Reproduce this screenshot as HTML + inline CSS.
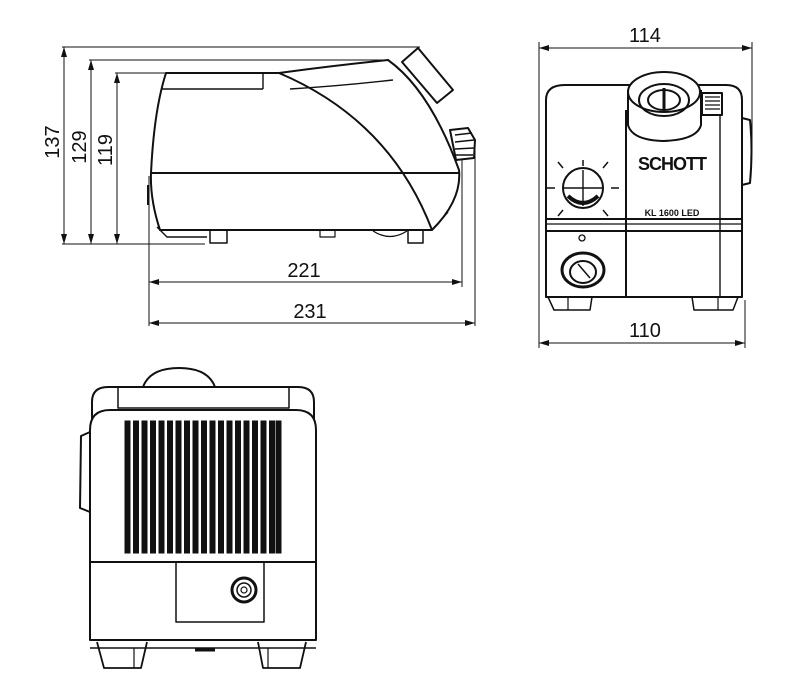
<!DOCTYPE html>
<html><head><meta charset="utf-8"><style>
html,body{margin:0;padding:0;background:#fff;width:800px;height:700px;overflow:hidden}
svg{display:block}
text{font-family:"Liberation Sans",sans-serif;fill:#111}
</style></head><body>
<svg width="800" height="700" viewBox="0 0 800 700" xmlns="http://www.w3.org/2000/svg">
<defs>
<marker id="a" viewBox="0 0 10 6" refX="10" refY="3" markerWidth="10" markerHeight="6" orient="auto-start-reverse" markerUnits="userSpaceOnUse"><path d="M0,0 L10,3 L0,6 z" fill="#111"/></marker>
</defs>
<g stroke="#111" fill="none" stroke-width="1">
<line x1="62" y1="47" x2="420" y2="47"/>
<line x1="89" y1="60" x2="388" y2="60"/>
<line x1="115" y1="73" x2="166" y2="73"/>
<line x1="62" y1="244" x2="205" y2="244"/>
<line x1="64" y1="47" x2="64" y2="244" marker-start="url(#a)" marker-end="url(#a)"/>
<line x1="91" y1="60" x2="91" y2="244" marker-start="url(#a)" marker-end="url(#a)"/>
<line x1="117" y1="73" x2="117" y2="244" marker-start="url(#a)" marker-end="url(#a)"/>
<line x1="149" y1="176" x2="149" y2="326"/>
<line x1="462" y1="160" x2="462" y2="287"/>
<line x1="475" y1="150" x2="475" y2="326"/>
<line x1="149" y1="282" x2="462" y2="282" marker-start="url(#a)" marker-end="url(#a)"/>
<line x1="149" y1="323" x2="475" y2="323" marker-start="url(#a)" marker-end="url(#a)"/>
<line x1="539" y1="42" x2="539" y2="348"/>
<line x1="752" y1="42" x2="752" y2="150"/>
<line x1="745" y1="300" x2="745" y2="348"/>
<line x1="539" y1="48" x2="752" y2="48" marker-start="url(#a)" marker-end="url(#a)"/>
<line x1="539" y1="343" x2="745" y2="343" marker-start="url(#a)" marker-end="url(#a)"/>
</g>
<g font-size="20" text-anchor="middle">
<text x="0" y="0" transform="translate(59,142) rotate(-90)">137</text>
<text x="0" y="0" transform="translate(86,147) rotate(-90)">129</text>
<text x="0" y="0" transform="translate(112,150) rotate(-90)">119</text>
<text x="304" y="277">221</text>
<text x="310" y="318">231</text>
<text x="645" y="42">114</text>
<text x="645" y="337">110</text>
</g>
<g stroke="#111" fill="none" stroke-width="2" stroke-linejoin="round">
<path d="M166,73 L279,73 Q330,66 388,60 Q430,90 459,170 Q462,200 432,230 L160,230 Q150,200 151,173 Q154,110 166,73 Z"/>
<line x1="161" y1="89" x2="263" y2="89" stroke-width="1.4"/>
<line x1="263" y1="73" x2="263" y2="89" stroke-width="1.4"/>
<path d="M290,89 Q340,86 393,80" stroke-width="1.4"/>
<path d="M279,73 Q390,120 432,230"/>
<line x1="151" y1="173" x2="459" y2="173"/>
<path d="M402,62 L418,48 L453,90 L437,103 Z" fill="#fff"/>
<path d="M450,130 L468,128 L475,140 L474,158 L456,160 Z" fill="#fff"/>
<path d="M455,135 L472,133 M455,142 L474,140 M455,149 L474,148 M455,155 L473,155" stroke-width="1.5"/>
<path d="M157,227 L167,237 L207,237" stroke-width="1.4"/>
<rect x="210" y="230" width="17" height="13" stroke-width="1.5"/>
<rect x="320" y="230" width="15" height="7" stroke-width="1.2"/>
<path d="M373,231 Q390,242 407,231" stroke-width="1.3"/>
<rect x="408" y="230" width="15" height="13" stroke-width="1.5"/>
<path d="M432,230 L448,212" stroke-width="1.4"/>
<line x1="148" y1="185" x2="148" y2="205" stroke-width="2"/>
</g>
<g stroke="#111" fill="none" stroke-width="2" stroke-linejoin="round">
<path d="M546,297 L546,100 Q546,85 565,85 L726,85 Q742,85 742,100 L742,297 Z"/>
<path d="M742,118 L750,120 Q753,150 750,183 L742,185"/>
<line x1="546" y1="219" x2="742" y2="219"/>
<line x1="546" y1="224" x2="742" y2="224" stroke-width="1.2"/>
<line x1="546" y1="231" x2="742" y2="231"/>
<line x1="626" y1="110" x2="626" y2="297"/>
<line x1="720" y1="115" x2="720" y2="297" stroke-width="1.4"/>
<path d="M628,90 L628,125 Q632,140 663,141 Q697,140 701,125 L701,90" fill="#fff"/>
<ellipse cx="664" cy="92" rx="36" ry="20" fill="#fff"/>
<ellipse cx="664" cy="100" rx="25" ry="16"/>
<ellipse cx="664" cy="100" rx="16" ry="10"/>
<line x1="664" y1="88" x2="664" y2="110" stroke-width="3"/>
<rect x="702" y="93" width="20" height="22" fill="#fff"/>
<path d="M705,97 H720 M705,101 H720 M705,105 H720 M705,109 H720" stroke-width="1.2"/>
<circle cx="583" cy="188" r="20"/>
<line x1="563" y1="188" x2="603" y2="188" stroke-width="1.4"/>
<line x1="583" y1="170" x2="583" y2="206" stroke-width="1.4"/>
<path d="M568,196 Q583,210 598,196" stroke-width="4"/>
<path d="M555,188 h-8 M611,188 h8 M563,168 l-5,-6 M603,168 l5,-6 M583,166 v-6 M563,210 l-5,6 M603,210 l5,6" stroke-width="1.5"/>
<circle cx="582" cy="238" r="3" stroke-width="1.3"/>
<ellipse cx="583" cy="270" rx="21" ry="17" stroke-width="3"/>
<ellipse cx="583" cy="272" rx="13" ry="11" stroke-width="2"/>
<line x1="578" y1="264" x2="590" y2="278" stroke-width="1.5"/>
<path d="M548,297 L554,310 L590,310 L592,297" stroke-width="1.5"/>
<line x1="568" y1="297" x2="568" y2="310" stroke-width="1.2"/>
<path d="M692,297 L694,310 L733,310 L738,297" stroke-width="1.5"/>
<line x1="718" y1="297" x2="718" y2="310" stroke-width="1.2"/>
</g>
<text x="672" y="170" font-size="18" font-weight="bold" text-anchor="middle" letter-spacing="-1">SCHOTT</text>
<text x="672" y="216" font-size="9" font-weight="bold" text-anchor="middle">KL 1600 LED</text>
<g stroke="#111" fill="none" stroke-width="2" stroke-linejoin="round">
<path d="M143,387 Q150,368 179,368 Q208,368 215,387"/>
<path d="M92,420 L92,402 Q92,387 108,387 L298,387 Q314,387 314,402 L314,420"/>
<rect x="118" y="387" width="171" height="21" stroke-width="1.5"/>
<path d="M90,640 L90,430 Q90,410 110,410 L296,410 Q316,410 316,430 L316,640 Z"/>
<path d="M90,432 L81,436 L80,508 L90,512" />
<line x1="90" y1="562" x2="316" y2="562"/>
<rect x="176" y="562" width="88" height="60" stroke-width="1.5"/>
<circle cx="244" cy="590" r="12" stroke-width="3"/>
<circle cx="244" cy="590" r="7" stroke-width="1.5"/>
<circle cx="244" cy="590" r="3" stroke-width="1.2"/>
<line x1="90" y1="648" x2="316" y2="648" stroke-width="1.4"/>
<path d="M97,642 L104,668 L141,668 L147,642" stroke-width="1.8"/>
<line x1="134" y1="648" x2="134" y2="668" stroke-width="1.2"/>
<path d="M258,642 L263,668 L300,668 L306,642" stroke-width="1.8"/>
<line x1="268" y1="648" x2="268" y2="668" stroke-width="1.2"/>
<line x1="195" y1="650" x2="215" y2="650" stroke-width="3"/>
</g>
<g fill="#111" stroke="#111" stroke-width="1">
<rect x="125" y="421" width="5" height="132"/><rect x="133.5" y="421" width="5" height="132"/>
<rect x="142" y="421" width="5" height="132"/><rect x="150.5" y="421" width="5" height="132"/>
<rect x="159" y="421" width="5" height="132"/><rect x="167.5" y="421" width="5" height="132"/>
<rect x="176" y="421" width="5" height="132"/><rect x="184.5" y="421" width="5" height="132"/>
<rect x="193" y="421" width="5" height="132"/><rect x="201.5" y="421" width="5" height="132"/>
<rect x="210" y="421" width="5" height="132"/><rect x="218.5" y="421" width="5" height="132"/>
<rect x="227" y="421" width="5" height="132"/><rect x="235.5" y="421" width="5" height="132"/>
<rect x="244" y="421" width="5" height="132"/><rect x="252.5" y="421" width="5" height="132"/>
<rect x="261" y="421" width="5" height="132"/><rect x="269.5" y="421" width="5" height="132"/>
<rect x="276" y="421" width="5" height="132"/>
</g>
</svg>
</body></html>
